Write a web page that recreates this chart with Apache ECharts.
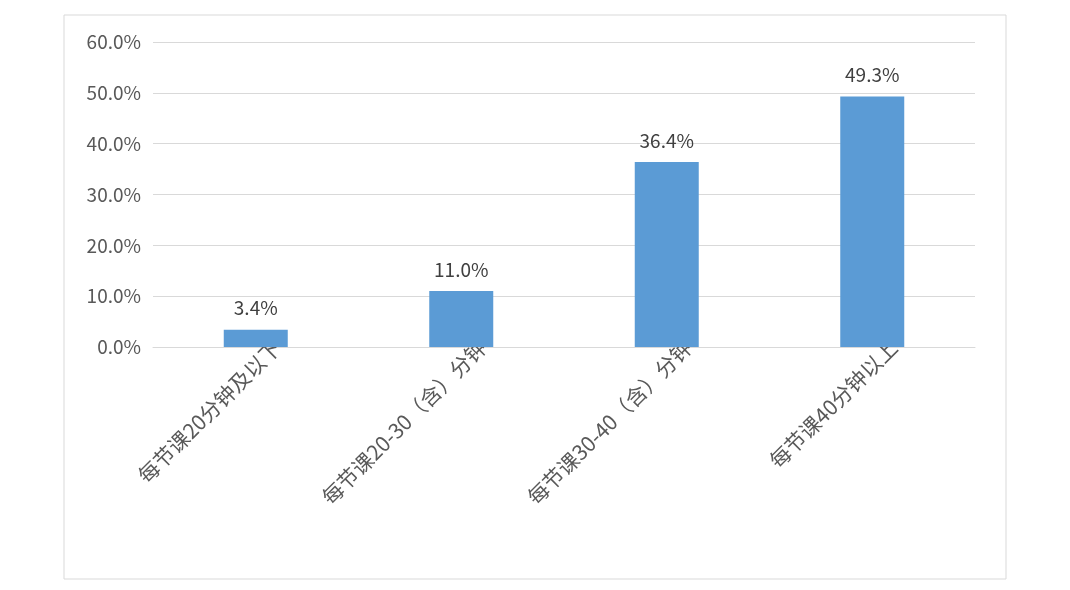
<!DOCTYPE html>
<html><head><meta charset="utf-8">
<script src="https://cdn.jsdelivr.net/npm/echarts@6/dist/echarts.min.js"></script>
<style>html,body{margin:0;background:#fff}#c{width:1070px;height:590px}</style>
</head><body><div id="c"></div>
<script>
const categories = ['每节课20分钟及以下', '每节课20-30（含）分钟', '每节课30-40（含）分钟', '每节课40分钟以上'];
const values = [3.4, 11.0, 36.4, 49.3];

const FONT = '"Noto Sans CJK SC", "Open Sans", sans-serif';
const c = echarts.init(document.getElementById('c'));
c.setOption({
  animation: false,
  graphic: [{ type: 'rect', left: 61.5, top: 12.5, shape: { width: 942, height: 564 },
    style: { fill: 'none', stroke: '#d9d9d9', lineWidth: 1 } }],
  grid: { left: 153, right: 95, top: 42, bottom: 243 },
  xAxis: {
    type: 'category', data: categories,
    axisLine: { lineStyle: { color: '#d9d9d9' } }, axisTick: { show: false },
    axisLabel: { rotate: 45, interval: 0, color: '#595959', fontSize: 21, fontFamily: FONT, margin: 18,
      padding: [0, -30, 0, 0] }
  },
  yAxis: {
    type: 'value', min: 0, max: 60, interval: 10,
    axisLine: { show: false }, axisTick: { show: false },
    splitLine: { lineStyle: { color: '#d9d9d9' } },
    axisLabel: { formatter: v => v.toFixed(1) + '%', color: '#595959', fontSize: 19, fontFamily: FONT, margin: 12 }
  },
  series: [{
    type: 'bar', data: values, barWidth: 64,
    itemStyle: { color: '#5b9bd5' },
    label: { show: true, position: 'top', distance: 12, formatter: p => p.value.toFixed(1) + '%',
      color: '#404040', fontSize: 19, fontFamily: FONT }
  }]
});
</script></body></html>
